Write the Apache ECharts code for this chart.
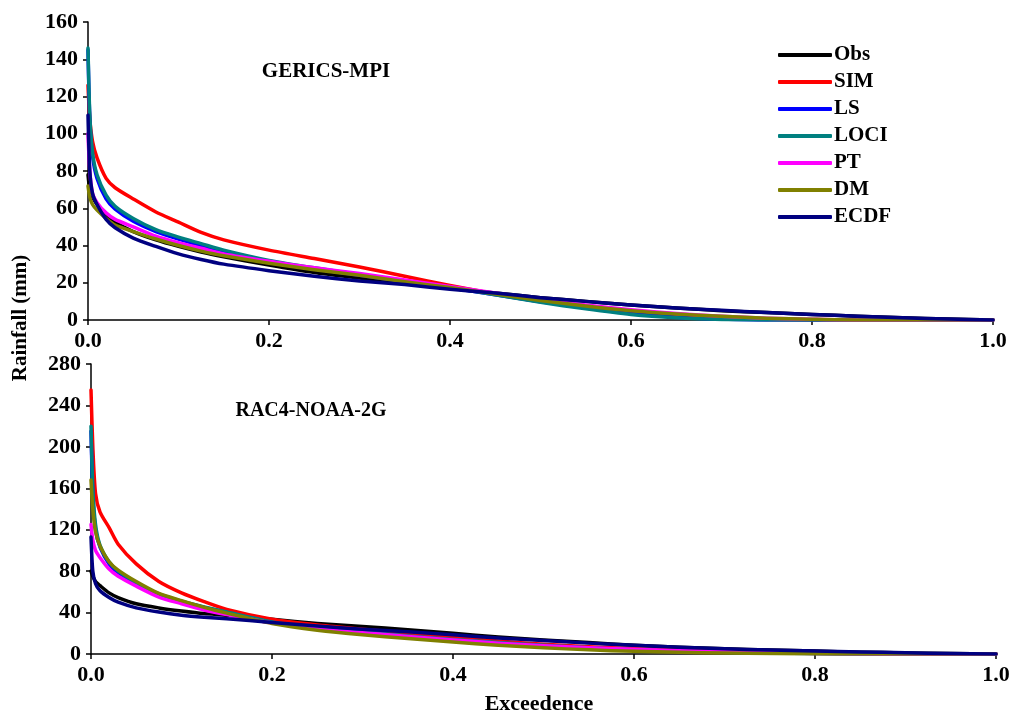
<!DOCTYPE html>
<html>
<head>
<meta charset="utf-8">
<script src="https://cdn.jsdelivr.net/npm/echarts@6/dist/echarts.min.js"></script>
<style>
  html, body { margin: 0; padding: 0; background: #fff; }
  #chart { width: 1014px; height: 714px; }
</style>
</head>
<body>
<div id="chart"></div>
<script>
// Exceedance probabilities shared by every curve
const exceedence = [0, 0.002, 0.005, 0.01, 0.02, 0.03, 0.05, 0.075, 0.1, 0.125, 0.15, 0.2, 0.25, 0.3, 0.35, 0.4, 0.45, 0.5, 0.55, 0.6, 0.65, 0.7, 0.75, 0.8, 0.85, 0.9, 0.95, 1.0];

const seriesNames = ['Obs', 'SIM', 'LS', 'LOCI', 'PT', 'DM', 'ECDF'];
const seriesColors = ['#000000', '#ff0000', '#0000ff', '#008080', '#ff00ff', '#808000', '#000080'];

// GERICS-MPI rainfall (mm)
const gericsObs  = [78, 70, 66, 62, 56.5, 52.5, 47.5, 43, 39.5, 36.5, 34, 29.5, 25.5, 22.5, 19.5, 17, 14.5, 12, 10, 8, 6.5, 5, 4, 3, 2, 1.2, 0.5, 0];
const gericsSIM  = [126, 108, 96, 87, 76, 71, 65, 58, 52.5, 47, 43, 37.5, 33, 28.5, 23.5, 18.5, 14, 10, 7, 4.5, 2.5, 1, 0.3, 0, 0, 0, 0, 0];
const gericsLS   = [145, 108, 88, 76, 65, 59.5, 53, 47.5, 43.5, 40, 37, 31.5, 27.5, 24, 20.5, 17.2, 13.5, 9.8, 6.5, 3.5, 1.5, 0.5, 0, 0, 0, 0, 0, 0];
const gericsLOCI = [146, 110, 90, 78, 67, 61, 54.5, 48.5, 44.5, 41, 37.5, 32, 28, 24.5, 21, 17.5, 13.5, 9.5, 6, 3, 1.2, 0.3, 0, 0, 0, 0, 0, 0];
const gericsPT   = [100, 80, 68, 63, 57.5, 54, 50, 45, 41.5, 38.5, 35.5, 31.5, 28, 25, 21.5, 18, 14.5, 11, 8, 5.5, 3.5, 2, 1, 0.4, 0, 0, 0, 0];
const gericsDM   = [72, 66, 62, 59, 54.5, 51, 47.5, 43.5, 40, 37, 34.5, 30.5, 27, 24, 20.5, 17.5, 14, 10.5, 7.5, 5, 3.2, 2, 1, 0.4, 0, 0, 0, 0];
const gericsECDF = [110, 80, 68, 62, 54, 49.5, 44, 39.5, 35.5, 32.5, 30, 26.5, 23.5, 21, 19, 16.5, 14.5, 12, 10, 8, 6.5, 5.2, 4, 3, 2, 1.2, 0.5, 0];

// RAC4-NOAA-2G rainfall (mm)
const racObs  = [80, 75, 70, 66, 59, 54.5, 48.5, 44.5, 41.5, 39, 37.5, 33.5, 29.5, 26.5, 23.5, 20, 16.5, 13.5, 11, 8.5, 6.5, 5, 3.8, 2.8, 1.8, 1, 0.4, 0];
const racSIM  = [255, 200, 155, 137, 122, 106, 87, 70, 59, 50.5, 43, 33.5, 28, 24, 20, 16, 12.5, 9.5, 7, 5, 3.5, 2.3, 1.3, 0.6, 0.2, 0, 0, 0];
const racLS   = [215, 155, 120, 103, 87, 78.5, 68, 57.5, 50.5, 45, 40, 30.5, 25, 21, 17, 13.5, 10.5, 8, 5.8, 3.9, 2.6, 1.6, 0.9, 0.4, 0.1, 0, 0, 0];
const racLOCI = [220, 160, 125, 105, 89, 80, 69, 58, 51, 45.5, 40.5, 31, 25.5, 21.5, 17.5, 14, 11, 8.5, 6, 4, 2.7, 1.7, 1, 0.5, 0.2, 0, 0, 0];
const racPT   = [125, 110, 100, 93, 82, 75, 65.5, 55, 48.5, 42.5, 38, 30, 24.5, 20.5, 17, 13.5, 10.5, 8, 6, 4.5, 3.2, 2.2, 1.4, 0.8, 0.3, 0, 0, 0];
const racDM   = [168, 140, 118, 104, 89, 81, 70, 58.5, 51.5, 45, 39.5, 29.5, 23, 18.5, 15, 11.5, 8.5, 6, 4, 2.6, 1.6, 1, 0.5, 0.2, 0, 0, 0, 0];
const racECDF = [113, 80, 68, 61, 54.5, 50, 44.5, 40.5, 37.5, 35.5, 34, 30.5, 27, 24, 21.5, 18.5, 15.5, 13, 10.5, 8.5, 6.5, 5, 3.8, 3, 2, 1.2, 0.5, 0];

const gericsData = [gericsObs, gericsSIM, gericsLS, gericsLOCI, gericsPT, gericsDM, gericsECDF];
const racData = [racObs, racSIM, racLS, racLOCI, racPT, racDM, racECDF];

const xTicks = { min: 0, max: 1, interval: 0.2 };
const gericsY = { min: 0, max: 160, interval: 20 };
const racY = { min: 0, max: 280, interval: 40 };

const FONT = '"Liberation Serif", "Times New Roman", serif';
const axisLine = { show: true, lineStyle: { color: '#000', width: 1.5 } };
const axisTick = { show: true, inside: false, length: 5, lineStyle: { color: '#000', width: 1.5 } };
const tickLabel = { color: '#000', fontFamily: FONT, fontWeight: 'bold', fontSize: 22 };

function makeSeries(dataSet, axisIndex) {
  return dataSet.map((vals, i) => ({
    name: seriesNames[i],
    type: 'line',
    xAxisIndex: axisIndex,
    yAxisIndex: axisIndex,
    data: exceedence.map((x, k) => [x, vals[k]]),
    showSymbol: false,
    smooth: 0.25,
    lineStyle: { color: seriesColors[i], width: 3.5, join: 'round', cap: 'round' },
    itemStyle: { color: seriesColors[i] },
    animation: false,
    z: 2 + i
  }));
}

function xAxis(gridIndex) {
  return {
    type: 'value', gridIndex,
    min: xTicks.min, max: xTicks.max, interval: xTicks.interval,
    axisLine, axisTick, splitLine: { show: false },
    axisLabel: Object.assign({ margin: 10, formatter: v => v.toFixed(1) }, tickLabel)
  };
}

function yAxis(gridIndex, cfg) {
  return {
    type: 'value', gridIndex,
    min: cfg.min, max: cfg.max, interval: cfg.interval,
    axisLine, axisTick, splitLine: { show: false },
    axisLabel: Object.assign({ margin: 10 }, tickLabel)
  };
}

const chart = echarts.init(document.getElementById('chart'), null, { renderer: 'canvas' });
chart.setOption({
  backgroundColor: '#fff',
  animation: false,
  grid: [
    { left: 88, right: 21, top: 22, height: 298 },
    { left: 91, right: 18, top: 364, height: 290 }
  ],
  xAxis: [xAxis(0), xAxis(1)],
  yAxis: [yAxis(0, gericsY), yAxis(1, racY)],
  legend: {
    orient: 'vertical',
    left: 773, top: 39,
    itemWidth: 54, itemHeight: 4, itemGap: 5,
    icon: 'roundRect',
    data: seriesNames,
    textStyle: { color: '#000', fontFamily: FONT, fontWeight: 'bold', fontSize: 21, lineHeight: 22, padding: [0, 0, 0, -3] }
  },
  graphic: [
    { type: 'text', x: 326, y: 72,
      style: { text: 'GERICS-MPI', fill: '#000', font: 'bold 21px ' + FONT, align: 'center', verticalAlign: 'middle' } },
    { type: 'text', x: 311, y: 411,
      style: { text: 'RAC4-NOAA-2G', fill: '#000', font: 'bold 20px ' + FONT, align: 'center', verticalAlign: 'middle' } },
    { type: 'text', x: 21, y: 318, rotation: Math.PI / 2,
      style: { text: 'Rainfall (mm)', fill: '#000', font: 'bold 21px ' + FONT, align: 'center', verticalAlign: 'middle' } },
    { type: 'text', x: 539, y: 704,
      style: { text: 'Exceedence', fill: '#000', font: 'bold 22px ' + FONT, align: 'center', verticalAlign: 'middle' } }
  ],
  series: makeSeries(gericsData, 0).concat(makeSeries(racData, 1))
});
</script>
</body>
</html>
